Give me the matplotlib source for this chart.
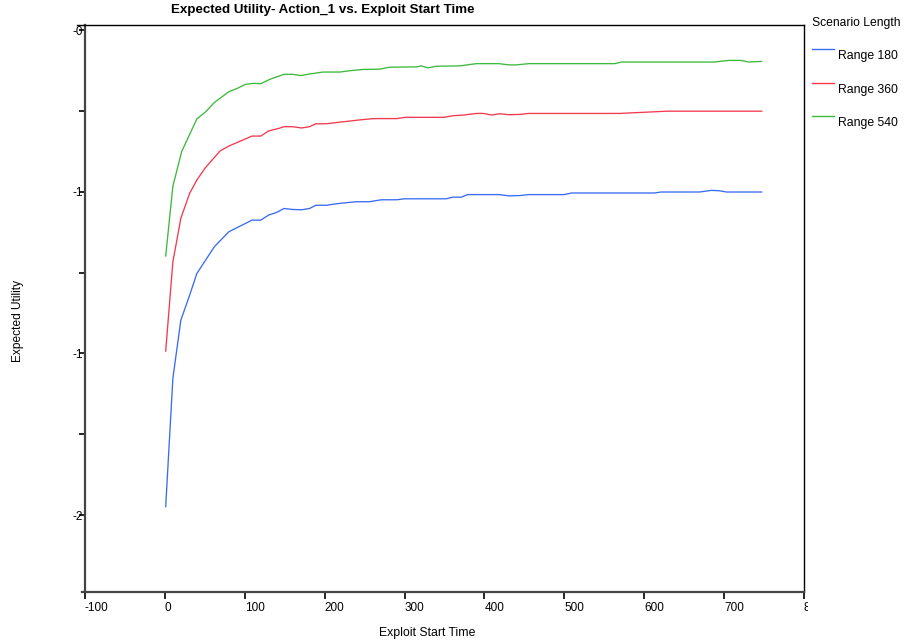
import matplotlib
matplotlib.use("Agg")
import matplotlib.pyplot as plt
from matplotlib.lines import Line2D
from matplotlib.transforms import Bbox

plt.rcParams['font.family'] = ['Liberation Sans', 'DejaVu Sans']

# data
x_180 = [1, 10, 20, 31, 40, 62, 80, 101, 109, 120, 130, 139, 143, 149, 160, 171, 181, 189, 202,
         219, 240, 256, 271, 290, 300, 352, 360, 371, 379, 418, 431, 444, 455, 500, 509, 613,
         621, 669, 684, 694, 703, 747]
y_180 = [-1.974, -1.577, -1.397, -1.320, -1.253, -1.170, -1.124, -1.098, -1.088, -1.088, -1.072,
         -1.065, -1.060, -1.052, -1.055, -1.056, -1.052, -1.042, -1.042, -1.036, -1.031, -1.031,
         -1.025, -1.025, -1.022, -1.022, -1.017, -1.017, -1.009, -1.009, -1.013, -1.012, -1.009,
         -1.009, -1.004, -1.004, -1.001, -1.001, -0.996, -0.997, -1.001, -1.001]

x_360 = [1, 10, 20, 31, 40, 50, 69, 80, 109, 120, 130, 143, 149, 160, 171, 181, 189, 202, 219,
         244, 261, 290, 301, 349, 361, 374, 390, 399, 409, 419, 431, 444, 455, 569, 629, 747]
y_360 = [-1.493, -1.217, -1.082, -1.005, -0.964, -0.928, -0.874, -0.859, -0.828, -0.828, -0.812,
         -0.804, -0.799, -0.799, -0.803, -0.799, -0.790, -0.790, -0.785, -0.778, -0.774, -0.774,
         -0.770, -0.770, -0.765, -0.763, -0.758, -0.758, -0.763, -0.759, -0.762, -0.761, -0.758,
         -0.758, -0.751, -0.751]

x_540 = [1, 10, 21, 40, 51, 62, 80, 91, 101, 111, 120, 132, 149, 160, 170, 181, 198, 219, 231,
         248, 269, 281, 315, 321, 329, 340, 369, 390, 418, 431, 439, 456, 563, 572, 687, 706,
         721, 731, 747]
y_540 = [-1.199, -0.983, -0.876, -0.775, -0.753, -0.724, -0.691, -0.680, -0.668, -0.665, -0.666,
         -0.652, -0.637, -0.637, -0.641, -0.636, -0.630, -0.630, -0.626, -0.622, -0.621, -0.615,
         -0.614, -0.611, -0.617, -0.612, -0.611, -0.604, -0.604, -0.608, -0.608, -0.604, -0.604,
         -0.599, -0.599, -0.594, -0.594, -0.599, -0.597]

series = [("Range 180", x_180, y_180, "#3a6cf2"),
          ("Range 360", x_360, y_360, "#f23a4e"),
          ("Range 540", x_540, y_540, "#3cba3c")]

xticks = [-100, 0, 100, 200, 300, 400, 500, 600, 700, 800]
xlabels = ["-100", "0", "100", "200", "300", "400", "500", "600", "700", "800"]
yticks = [-0.5, -0.75, -1.0, -1.25, -1.5, -1.75, -2.0]
ylabels = ["-0", "", "-1", "", "-1", "", "-2"]

W, H = 907, 644
fig = plt.figure(figsize=(W / 100, H / 100), dpi=100)
ax = fig.add_axes([85 / W, 1 - 592 / H, (804 - 85) / W, (592 - 25) / H])

for name, xs, ys, c in series:
    ax.plot(xs, ys, color=c, lw=0.95)

ax.set_xlim(-100, 800)
ax.set_ylim(-2.238, -0.4845)
ax.set_xticks(xticks)
ax.set_xticklabels(xlabels)
ax.set_yticks(yticks)
ax.set_yticklabels(ylabels)
ax.tick_params(axis='x', direction='out', length=5, width=1.2, pad=2, labelsize=8.5)
ax.tick_params(axis='y', direction='out', length=4, width=1.2, pad=-2.5, labelsize=8.5)
plt.setp(ax.get_xticklabels(), ha='left')

for s in ['left', 'bottom']:
    ax.spines[s].set_linewidth(1.6)
    ax.spines[s].set_color('#444444')
for s in ['top', 'right']:
    ax.spines[s].set_linewidth(1.0)
    ax.spines[s].set_color('black')
ax.spines['top'].set_bounds(-110, 800)
ax.spines['bottom'].set_bounds(-104, 800)

# last x label is cut off at the right, like the original
lab = ax.get_xticklabels()[-1]
lab.set_clip_on(True)
lab.set_clip_box(Bbox([[0, 0], [808, H]]))

fig.text(323 / W, 1 - 10 / H, "Expected Utility- Action_1 vs. Exploit Start Time",
         ha='center', va='center', fontsize=9.6, fontweight='bold')
fig.text(427 / W, 1 - 633 / H, "Exploit Start Time", ha='center', va='center', fontsize=8.8)
fig.text(18 / W, 1 - 321 / H, "Expected Utility", ha='center', va='center',
         rotation=90, fontsize=8.6)

# legend
fig.text(812 / W, 1 - 23 / H, "Scenario Length", ha='left', va='center', fontsize=8.7)
for i, (name, xs, ys, c) in enumerate(series):
    yl = 49 + i * 33.5
    fig.add_artist(Line2D([812 / W, 834 / W], [1 - yl / H] * 2, color=c, lw=1.0,
                          transform=fig.transFigure))
    fig.text(838 / W, 1 - (yl + 7) / H, name, ha='left', va='center', fontsize=8.8)

fig.savefig("out.png", dpi=100)
